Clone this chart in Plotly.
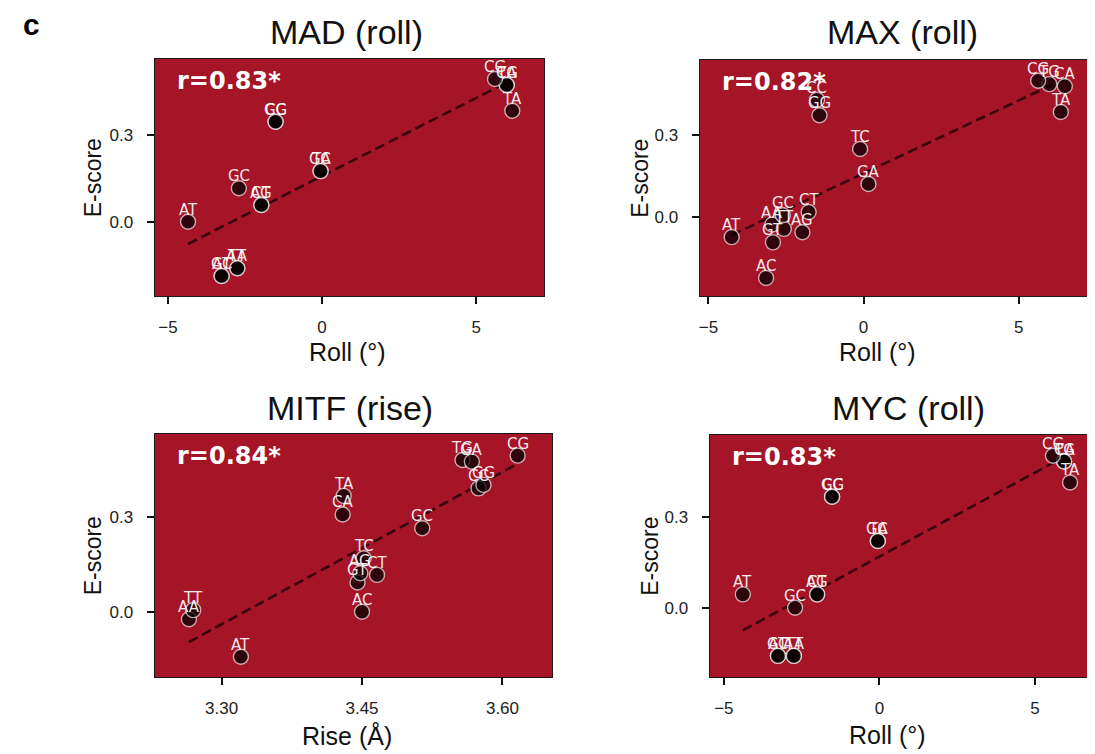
import numpy as np
import plotly.graph_objects as go

# ---------------- data ----------------
labels = ["AA", "TT", "AC", "GT", "AG", "CT", "AT", "CA", "TG", "CC", "GG", "CG", "GA", "TC", "GC", "TA"]

mad_roll = [-2.75, -2.75, -3.26, -3.26, -1.97, -1.97, -4.35, 5.99, 5.99, -1.51, -1.51, 5.61, -0.05, -0.05, -2.70, 6.17]
mad_escore = [-0.161, -0.161, -0.188, -0.188, 0.058, 0.058, 0.0, 0.473, 0.473, 0.346, 0.346, 0.494, 0.175, 0.175, 0.116, 0.384]

max_roll = [-2.94, -2.57, -3.14, -2.92, -1.97, -1.77, -4.25, 6.49, 5.99, -1.50, -1.42, 5.63, 0.16, -0.11, -2.60, 6.36]
max_escore = [-0.028, -0.044, -0.223, -0.093, -0.056, 0.018, -0.074, 0.477, 0.485, 0.428, 0.371, 0.497, 0.120, 0.248, 0.006, 0.383]

mitf_rise = [3.2651, 3.2697, 3.4500, 3.4452, 3.4482, 3.4660, 3.3206, 3.4293, 3.5573, 3.5744, 3.5797, 3.6162, 3.5673, 3.4518, 3.5143, 3.4304]
mitf_escore = [-0.024, 0.005, 0.0, 0.093, 0.122, 0.117, -0.143, 0.309, 0.482, 0.392, 0.403, 0.496, 0.477, 0.170, 0.265, 0.368]

myc_roll = [-2.75, -2.75, -3.26, -3.26, -2.00, -2.00, -4.39, 5.94, 5.94, -1.52, -1.52, 5.58, -0.05, -0.05, -2.71, 6.13]
myc_escore = [-0.159, -0.159, -0.159, -0.159, 0.044, 0.044, 0.044, 0.482, 0.482, 0.366, 0.366, 0.501, 0.220, 0.220, 0.0, 0.413]

titles = ["MAD (roll)", "MAX (roll)", "MITF (rise)", "MYC (roll)"]
r_texts = ["r=0.83*", "r=0.82*", "r=0.84*", "r=0.83*"]
x_titles = ["Roll (°)", "Roll (°)", "Rise (Å)", "Roll (°)"]
roll_ticks = [-5, 0, 5]
roll_ticklabels = ["\u22125", "0", "5"]
rise_ticks = [3.30, 3.45, 3.60]
rise_ticklabels = ["3.30", "3.45", "3.60"]
y_ticks = [0.0, 0.3]
y_ticklabels = ["0.0", "0.3"]

# ---------------- layout geometry ----------------
OFF = 8  # page body margin
W, H = 1095 - OFF, 754 - OFF
# reference pixel boxes (left, right, top, bottom)
boxes = [(154, 544, 59, 296), (700, 1095, 60, 296), (154, 552, 434, 677), (710, 1095, 435, 677)]
xranges = [[-5.43, 7.20], [-5.28, 7.43], [3.2286, 3.6529], [-5.454, 6.90]]
yranges = [[-0.257, 0.563], [-0.289, 0.573], [-0.2075, 0.5647], [-0.2285, 0.5694]]
title_pos = [(346, 32), (903, 32), (350, 408), (909, 408)]
xtitle_pos = [(347, 352), (878, 352), (347, 735), (888, 735)]
ytitle_x = [92, 640, 92, 650]


def px(x):
    return (x - OFF) / W


def py(y):
    return 1 - (y - OFF) / H


panels = [(mad_roll, mad_escore), (max_roll, max_escore), (mitf_rise, mitf_escore), (myc_roll, myc_escore)]

BG = "#a51427"
FONT = "Liberation Sans, Arial, sans-serif"
fig = go.Figure()
annotations = []
layout = dict(
    width=W, height=H,
    margin=dict(l=0, r=0, t=0, b=0),
    paper_bgcolor="white",
    plot_bgcolor=BG,
    showlegend=False,
    font=dict(family=FONT, color="#111"),
)

for i, ((xs, ys), box) in enumerate(zip(panels, boxes)):
    n = i + 1
    xa = "x" if n == 1 else f"x{n}"
    ya = "y" if n == 1 else f"y{n}"
    l, r, t, b = box
    xs = np.array(xs)
    ys = np.array(ys)
    # regression line
    slope, intercept = np.polyfit(xs, ys, 1)
    lx = np.array([xs.min(), xs.max()])
    fig.add_trace(go.Scatter(
        x=lx, y=slope * lx + intercept, mode="lines",
        line=dict(color="rgba(20,0,5,0.75)", width=2.6, dash="10px,5px"),
        xaxis=xa, yaxis=ya, hoverinfo="skip"))
    fig.add_trace(go.Scatter(
        x=xs, y=ys, mode="markers",
        marker=dict(size=15, color="rgba(0,0,0,0.73)",
                    line=dict(color="rgba(255,255,255,0.65)", width=1.4)),
        xaxis=xa, yaxis=ya))
    for lab, xv, yv in zip(labels, xs, ys):
        annotations.append(dict(
            x=xv, y=yv, xref=xa, yref=ya, text=lab, showarrow=False,
            yshift=12, font=dict(family="DejaVu Sans", size=15, color="rgba(255,255,255,0.92)")))
    # r value
    annotations.append(dict(
        x=px(l + 20), y=py(t + 22), xref="paper", yref="paper",
        xanchor="left", yanchor="middle", text=f"<b>{r_texts[i]}</b>", showarrow=False,
        font=dict(family="DejaVu Sans", size=24, color="white")))
    # title
    tx, ty = title_pos[i]
    annotations.append(dict(
        x=px(tx), y=py(ty), xref="paper", yref="paper", xanchor="center", yanchor="middle",
        text=titles[i], showarrow=False, font=dict(family=FONT, size=34, color="#111")))
    # axis titles
    ax_x, ax_y = xtitle_pos[i]
    annotations.append(dict(
        x=px(ax_x), y=py(ax_y), xref="paper", yref="paper", xanchor="center", yanchor="middle",
        text=x_titles[i], showarrow=False, font=dict(family=FONT, size=25, color="#111")))
    annotations.append(dict(
        x=px(ytitle_x[i]), y=py((t + b) / 2), xref="paper", yref="paper", xanchor="center",
        yanchor="middle", text="E-score", textangle=-90, showarrow=False,
        font=dict(family=FONT, size=23, color="#111")))

    if i == 2:
        tv, tt = rise_ticks, rise_ticklabels
    else:
        tv, tt = roll_ticks, roll_ticklabels
    axis_common = dict(showline=True, mirror=True, linecolor="#1a1a1a", linewidth=1.3,
                       ticks="outside", ticklen=7, tickwidth=1.6, tickcolor="#111",
                       showgrid=False, zeroline=False,
                       tickfont=dict(family=FONT, size=17, color="#222"))
    layout["xaxis" if n == 1 else f"xaxis{n}"] = dict(
        domain=[px(l), min(px(r), 1.0)], range=xranges[i], anchor=ya,
        tickvals=tv, ticktext=tt, ticklabelstandoff=8, **axis_common)
    layout["yaxis" if n == 1 else f"yaxis{n}"] = dict(
        domain=[py(b), py(t)], range=yranges[i], anchor=xa,
        tickvals=y_ticks, ticktext=y_ticklabels, ticklabelstandoff=10, **axis_common)

annotations.append(dict(x=px(31), y=py(24), xref="paper", yref="paper", xanchor="center",
                        yanchor="middle", text="<b>c</b>", showarrow=False,
                        font=dict(family=FONT, size=30, color="black")))
layout["annotations"] = annotations
fig.update_layout(**layout)
fig.write_html("out.html")
